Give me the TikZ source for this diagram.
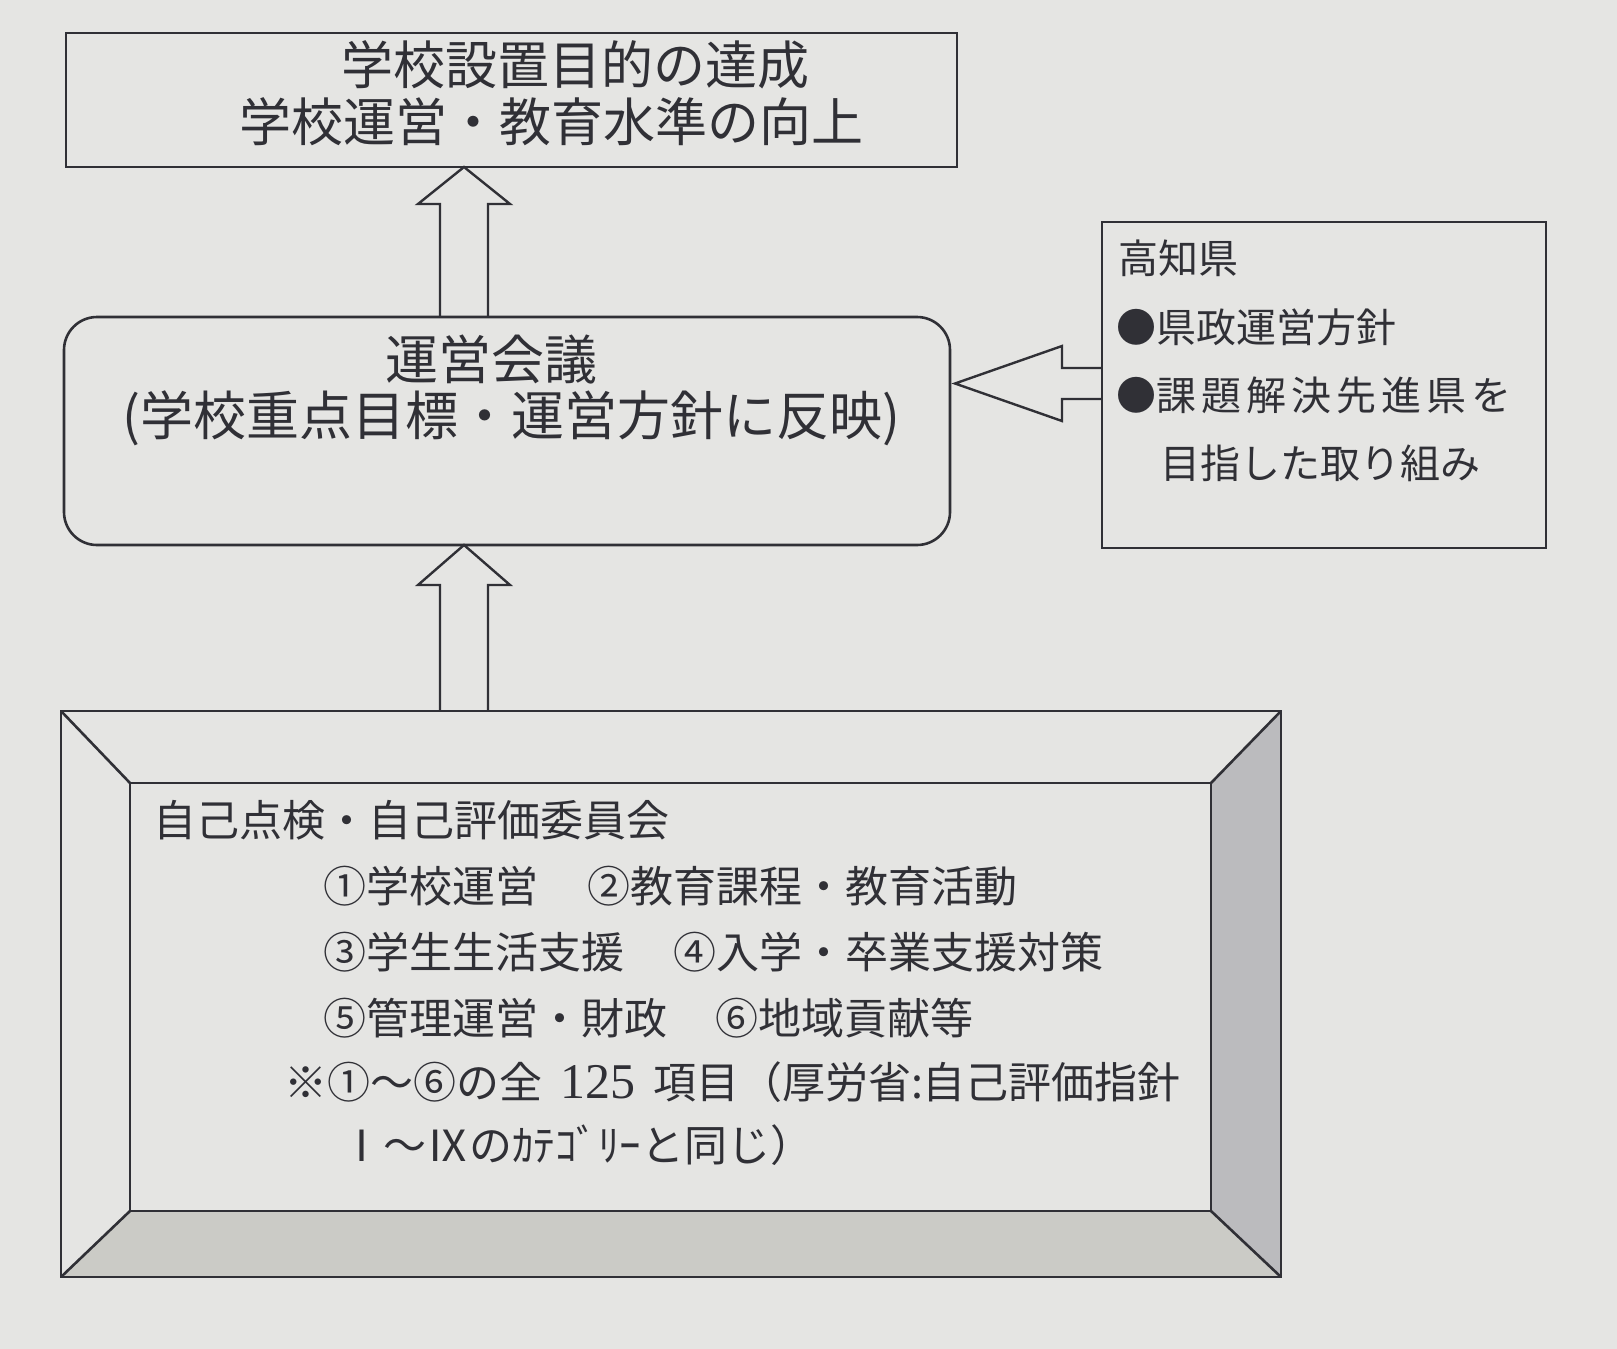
\documentclass[tikz,border=0pt]{standalone}
\usepackage{fontspec}
\setmainfont{Noto Sans CJK JP}
\newfontfamily\latinserif{Liberation Serif}
\usetikzlibrary{backgrounds,calc}
\definecolor{paper}{HTML}{E5E5E3}
\definecolor{ink}{HTML}{303036}
\definecolor{bevelR}{HTML}{BBBBBE}
\definecolor{bevelB}{HTML}{CBCBC6}
\tikzset{
  box/.style={draw=ink, line width=1.3pt, inner sep=0pt, outer sep=0pt},
  txt/.style={inner sep=0pt, outer sep=0pt, text=ink},
  big/.style={txt, font=\fontsize{26}{30}\selectfont},
  mid/.style={txt, font=\fontsize{21.5}{25}\selectfont, anchor=west},
  small/.style={txt, font=\fontsize{20}{24}\selectfont, anchor=west},
  blockarrow/.style={draw=ink, line width=1.2pt, line join=miter},
}
\begin{document}
\begin{tikzpicture}[x=0.5pt,y=-0.5pt]
\begin{scope}[on background layer]
\fill[paper] (0,0) rectangle (1617,1349);
\end{scope}
\useasboundingbox (0,0) rectangle (1617,1349);

% top box
\node[box, minimum width=445.5pt, minimum height=67pt] (goal) at (511.5,100) {};
\node[big] (goal1) at (575,65) {学校設置目的の達成};
\node[big] (goal2) at (551,122) {学校運営・教育水準の向上};

% meeting box
\node[box, rounded corners=16.5pt, minimum width=443pt, minimum height=114pt] (meet) at (507,431) {};
\node[big, font=\fontsize{26.5}{30}\selectfont] (meet1) at (491,360) {運営会議};
\node[big, font=\fontsize{26.5}{30}\selectfont] (meet2) at (511,418) {(学校重点目標・運営方針に反映)};

% Kochi box
\node[box, minimum width=222pt, minimum height=163pt] (kochi) at (1324,385) {};
\node[small] (k1) at (1118,258) {高知県};
\node[small] (k2) at (1116,327) {●県政運営方針};
\node[small] (k3) at (1116,395) {●課\kern2.5pt 題\kern2.5pt 解\kern2.5pt 決\kern2.5pt 先\kern2.5pt 進\kern2.5pt 県\kern2.5pt を};
\node[small] (k4) at (1160,463) {目指した取り組み};

% bevel frame
\node[box, minimum width=610pt, minimum height=283pt] (frame) at (671,994) {};
\node[box, minimum width=540.5pt, minimum height=214pt] (inner) at (670.5,997) {};
\begin{scope}[on background layer]
\fill[bevelR] (frame.north east) -- (inner.north east) -- (inner.south east) -- (frame.south east) -- cycle;
\fill[bevelB] (inner.south west) -- (inner.south east) -- (frame.south east) -- (frame.south west) -- cycle;
\end{scope}
\draw[box] (frame.north west) -- (inner.north west);
\draw[box] (frame.north east) -- (inner.north east);
\draw[box] (frame.south east) -- (inner.south east);
\draw[box] (frame.south west) -- (inner.south west);

\node[mid] (c0) at (153,820) {自己点検・自己評価委員会};
\node[mid] (c1) at (323,886) {①学校運営};
\node[mid] (c2) at (587,886) {②教育課程・教育活動};
\node[mid] (c3) at (323,952) {③学生生活支援};
\node[mid] (c4) at (673,952) {④入学・卒業支援対策};
\node[mid] (c5) at (323,1018) {⑤管理運営・財政};
\node[mid] (c6) at (715,1018) {⑥地域貢献等};
\node[mid] (c7) at (284,1082) {※①～⑥の全\hspace{9pt}{\latinserif\fontsize{25}{25}\selectfont 125}\hspace{9pt}項目（厚労省:自己評価指針};
\node[mid] (c8) at (340,1145) {Ⅰ～Ⅸのｶﾃｺﾞﾘｰと同じ）};

% block arrows
\coordinate (ax) at (464,0);
\coordinate (ay) at (0,383.5);
\draw[blockarrow] (ax |- meet.north) ++(-24,0) -- ++(0,-113) -- ++(-22,0)
   -- (ax |- goal.south) -- ++(46,37) -- ++(-22,0) -- ++(0,113);
\draw[blockarrow] (ax |- frame.north) ++(-24,0) -- ++(0,-126) -- ++(-22,0)
   -- (ax |- meet.south) -- ++(46,40) -- ++(-22,0) -- ++(0,126);
\draw[blockarrow] (kochi.west |- ay) ++(0,-15.5) -- ++(-40,0) -- ++(0,-22)
   -- ($(meet.east |- ay)+(5,0)$) -- ++(107,37.5) -- ++(0,-22) -- ++(40,0);
\end{tikzpicture}
\end{document}
